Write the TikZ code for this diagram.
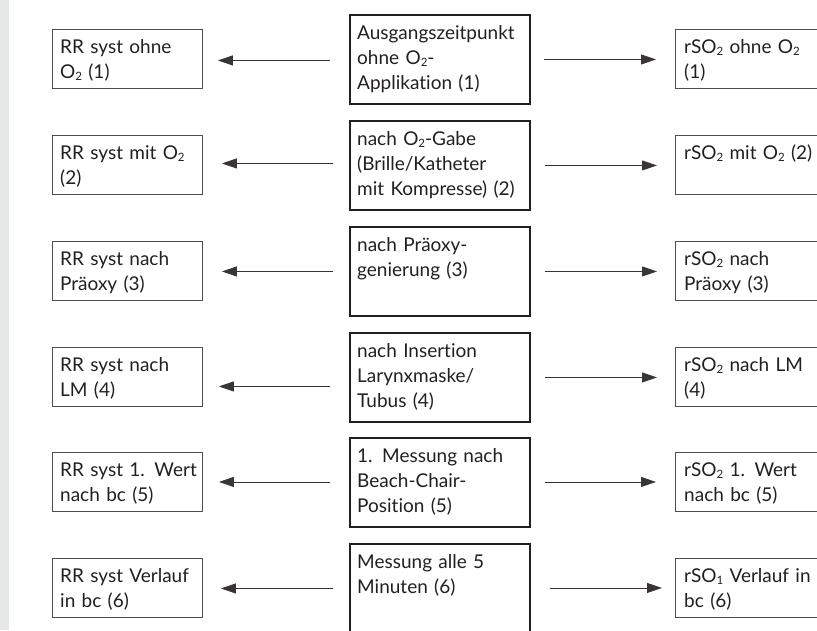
\documentclass[tikz,border=0pt]{standalone}
\usepackage{fontspec}
\setmainfont[Ligatures={NoCommon,NoRare}]{Lato}
\usetikzlibrary{arrows.meta,calc}
\definecolor{ink}{HTML}{231F20}
\definecolor{strip}{HTML}{E6E7E9}
\newcommand{\subnum}[1]{\raisebox{-0.12em}{\fontsize{11.5}{11.5}\selectfont #1}}
\newcommand{\Otwo}{O\subnum{2}}
\begin{document}
\begin{tikzpicture}[x=1pt,y=-1pt,
  sbox/.style={draw=ink!80, line width=0.9pt, minimum width=150pt, minimum height=59pt, inner sep=0pt, anchor=north west},
  cbox/.style={draw=ink, line width=1.6pt, minimum width=180pt, minimum height=89pt, inner sep=0pt, anchor=north west},
  lbl/.style={anchor=base west, inner sep=0pt, text width=220pt, align=left, font=\fontsize{19}{25}\selectfont, text=ink},
  arr/.style={draw=ink!90, line width=0.9pt, -{Triangle[length=15pt,width=10pt]}}]
\useasboundingbox (0,0) rectangle (817,630);
\clip (0,0) rectangle (817,630);
\fill[strip] (0,0) rectangle (8.5,630);
% left boxes
\node[sbox] (l1) at (52,29) {};
\node[sbox] (l2) at (52,135) {};
\node[sbox] (l3) at (52,241) {};
\node[sbox] (l4) at (52,347) {};
\node[sbox] (l5) at (52,452) {};
\node[sbox] (l6) at (52,558) {};
% centre boxes
\node[cbox] (c1) at (349,14) {};
\node[cbox] (c2) at (349,120) {};
\node[cbox] (c3) at (349,226) {};
\node[cbox] (c4) at (349,332) {};
\node[cbox] (c5) at (349,437) {};
\node[cbox, minimum height=110pt] (c6) at (349,543) {};
% right boxes
\node[sbox] (r1) at (675,29) {};
\node[sbox] (r2) at (675,135) {};
\node[sbox] (r3) at (675,241) {};
\node[sbox] (r4) at (675,347) {};
\node[sbox] (r5) at (675,452) {};
\node[sbox] (r6) at (675,558) {};
% texts
\node[lbl] (tl1) at ($(l1.north west)+(8,24)$) {RR syst ohne\\\Otwo{} (1)};
\node[lbl] (tl2) at ($(l2.north west)+(8,24)$) {RR syst mit \Otwo\\(2)};
\node[lbl] (tl3) at ($(l3.north west)+(8,24)$) {RR syst nach\\Präoxy (3)};
\node[lbl] (tl4) at ($(l4.north west)+(8,24)$) {RR syst nach\\LM (4)};
\node[lbl] (tl5) at ($(l5.north west)+(8,24)$) {RR syst 1. Wert\\nach bc (5)};
\node[lbl] (tl6) at ($(l6.north west)+(8,24)$) {RR syst Verlauf\\in bc (6)};
\node[lbl] (tc1) at ($(c1.north west)+(8,25)$) {Ausgangszeitpunkt\\ohne \Otwo-\\Applikation (1)};
\node[lbl] (tc2) at ($(c2.north west)+(8,25)$) {nach \Otwo-Gabe\\(Brille/Katheter\\mit Kompresse) (2)};
\node[lbl] (tc3) at ($(c3.north west)+(8,25)$) {nach Präoxy-\\genierung (3)};
\node[lbl] (tc4) at ($(c4.north west)+(8,25)$) {nach Insertion\\Larynxmaske/\\Tubus (4)};
\node[lbl] (tc5) at ($(c5.north west)+(8,25)$) {1. Messung nach\\Beach-Chair-\\Position (5)};
\node[lbl] (tc6) at ($(c6.north west)+(8,25)$) {Messung alle 5\\Minuten (6)};
\node[lbl] (tr1) at ($(r1.north west)+(9,24)$) {rS\Otwo{} ohne \Otwo\\(1)};
\node[lbl] (tr2) at ($(r2.north west)+(9,24)$) {rS\Otwo{} mit \Otwo{} (2)};
\node[lbl] (tr3) at ($(r3.north west)+(9,24)$) {rS\Otwo{} nach\\Präoxy (3)};
\node[lbl] (tr4) at ($(r4.north west)+(9,24)$) {rS\Otwo{} nach LM\\(4)};
\node[lbl] (tr5) at ($(r5.north west)+(9,24)$) {rS\Otwo{} 1. Wert\\nach bc (5)};
\node[lbl] (tr6) at ($(r6.north west)+(9,24)$) {rSO\subnum{1} Verlauf in\\bc (6)};
% left arrows
\draw[arr] ($(l1.east -| c1.west)+(-19,1.5)$) -- ($(l1.east)+(15,1.5)$);
\draw[arr] ($(l2.east -| c2.west)+(-16,-1.5)$) -- ($(l2.east)+(19,-1.5)$);
\draw[arr] ($(l3.east -| c3.west)+(-16,0.5)$) -- ($(l3.east)+(19,0.5)$);
\draw[arr] ($(l4.east -| c4.west)+(-19,9.5)$) -- ($(l4.east)+(16,9.5)$);
\draw[arr] ($(l5.east -| c5.west)+(-19,0)$) -- ($(l5.east)+(16,0)$);
\draw[arr] ($(l6.east -| c6.west)+(-16,0.5)$) -- ($(l6.east)+(18,0.5)$);
% right arrows
\draw[arr] ($(r1.west -| c1.east)+(13,0.5)$) -- ($(r1.west)+(-19,0.5)$);
\draw[arr] ($(r2.west -| c2.east)+(14,0.5)$) -- ($(r2.west)+(-18,0.5)$);
\draw[arr] ($(r3.west -| c3.east)+(14,0.5)$) -- ($(r3.west)+(-18,0.5)$);
\draw[arr] ($(r4.west -| c4.east)+(14,0.5)$) -- ($(r4.west)+(-18,0.5)$);
\draw[arr] ($(r5.west -| c5.east)+(14,0)$) -- ($(r5.west)+(-19,0)$);
\draw[arr] ($(r6.west -| c6.east)+(19,0)$) -- ($(r6.west)+(-13,0)$);
\end{tikzpicture}
\end{document}
